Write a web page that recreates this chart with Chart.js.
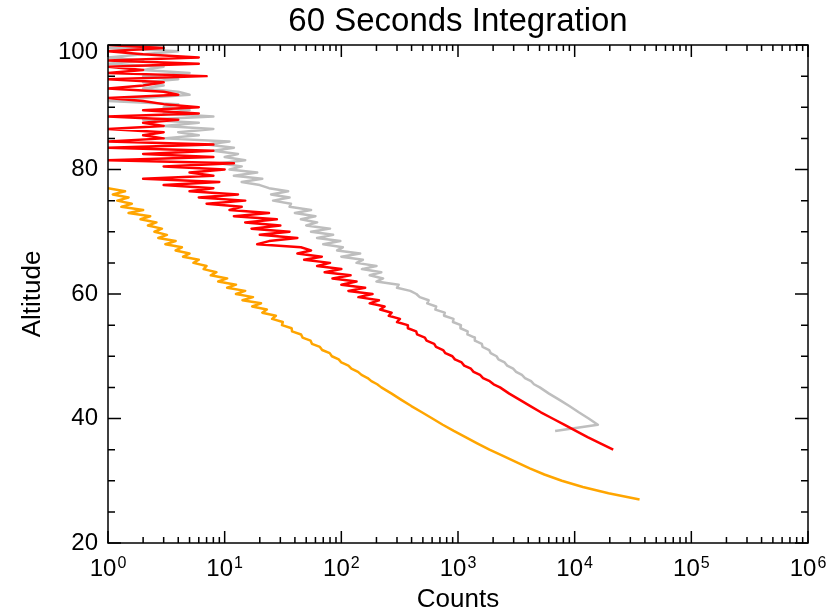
<!DOCTYPE html>
<html>
<head>
<meta charset="utf-8">
<title>60 Seconds Integration</title>
<script src="https://cdn.jsdelivr.net/npm/chart.js@4/dist/chart.umd.min.js"></script>
<style>
  html, body { margin: 0; padding: 0; background: #fff; }
  canvas { display: block; }
</style>
</head>
<body>
<canvas id="profile" width="831" height="611"></canvas>
<script>
const _ = null;

// altitude grid (km): 0.5 km steps down to 45, then 1 km
const altitude = [
  100, 99.5, 99, 98.5, 98, 97.5, 97, 96.5, 96, 95.5,
  95, 94.5, 94, 93.5, 93, 92.5, 92, 91.5, 91, 90.5,
  90, 89.5, 89, 88.5, 88, 87.5, 87, 86.5, 86, 85.5,
  85, 84.5, 84, 83.5, 83, 82.5, 82, 81.5, 81, 80.5,
  80, 79.5, 79, 78.5, 78, 77.5, 77, 76.5, 76, 75.5,
  75, 74.5, 74, 73.5, 73, 72.5, 72, 71.5, 71, 70.5,
  70, 69.5, 69, 68.5, 68, 67.5, 67, 66.5, 66, 65.5,
  65, 64.5, 64, 63.5, 63, 62.5, 62, 61.5, 61, 60.5,
  60, 59.5, 59, 58.5, 58, 57.5, 57, 56.5, 56, 55.5,
  55, 54.5, 54, 53.5, 53, 52.5, 52, 51.5, 51, 50.5,
  50, 49.5, 49, 48.5, 48, 47.5, 47, 46.5, 46, 45.5,
  45, 44, 43, 42, 41, 40, 39, 38, 37, 36,
  35, 34, 33, 32, 31, 30, 29, 28, 27
];

const grayCounts = [
  3, 1, 4, 2, 1, 2, 1, 3, 2, 5,
  2, 4, 2, 3, 2, 4, 5, 2, 1, 4,
  3, 5, 3, 8, 2, 6, 3, 8, 4, 6,
  3, 11, 7, 12, 8, 13, 10, 15, 9, 14,
  11, 19, 12, 21, 14, 20, 24, 35, 25, 36,
  26, 37, 36, 55, 40, 60, 45, 62, 50, 80,
  55, 85, 62, 98, 70, 103, 92, 145, 100, 153,
  135, 200, 150, 220, 175, 228, 200, 310, 300, 390,
  440, 470, 560, 545, 650, 640, 770, 760, 915, 905,
  1060, 1050, 1210, 1205, 1390, 1395, 1600, 1625, 1850, 1905,
  2140, 2220, 2510, 2640, 2970, 3150, 3530, 3750, 4230, 4480,
  5020, 6030, 7410, 9000, 10840, 13180, 15800, 6800, _, _,
  _, _, _, _, _, _, _, _, _
];

const redCounts = [
  1, 3, 1, 2, 6, 1, 6, 1, 2, 1,
  7, 1, 3, 2, 1, 3, 4, 1, 2, 3,
  6, 2, 6, 1, 4, 2, 3, 1, 3, 2,
  3, 1, 8, 1, 8, 2, 8, 1, 12, 3,
  10, 5, 8, 2, 9, 3, 8, 5, 13, 6,
  15, 7, 14, 11, 24, 12, 28, 15, 30, 17,
  36, 20, 42, 24, 19, 45, 55, 42, 68, 48,
  80, 62, 100, 72, 120, 84, 135, 100, 160, 115,
  185, 140, 210, 175, 235, 215, 270, 255, 318, 300,
  370, 372, 438, 446, 520, 538, 625, 648, 745, 780,
  895, 940, 1075, 1130, 1290, 1360, 1545, 1640, 1870, 2020,
  2290, 2750, 3390, 4170, 5130, 6460, 8130, 10230, 12900, 16600,
  21400, _, _, _, _, _, _, _, _
];

const orangeCounts = [
  _, _, _, _, _, _, _, _, _, _,
  _, _, _, _, _, _, _, _, _, _,
  _, _, _, _, _, _, _, _, _, _,
  _, _, _, _, _, _, _, _, _, _,
  _, _, _, _, _, _, 1.0, 1.4, 1.1, 1.5,
  1.2, 1.6, 1.3, 2.0, 1.5, 2.3, 1.9, 2.6, 2.2, 2.9,
  2.5, 3.2, 2.7, 3.8, 3.1, 4.3, 3.8, 5.0, 4.4, 6.0,
  5.4, 7.0, 6.6, 8.5, 7.6, 10.5, 8.8, 12.5, 10.5, 15.0,
  12.5, 17.5, 14.2, 20.5, 17.2, 23.0, 21.0, 27.5, 25.5, 31.5,
  31.0, 37.5, 37.8, 45.2, 46.5, 54.5, 56.0, 65.5, 68.5, 79.5,
  83, 95, 100, 115, 122, 139, 149, 168, 181, 203,
  220, 270, 327, 398, 490, 603, 740, 920, 1160, 1460,
  1860, 2430, 3160, 4120, 5500, 7760, 11750, 19500, 36000
];

// axis ticks
const xExponents = [0, 1, 2, 3, 4, 5, 6];
const xMinorSteps = [2, 3, 4, 5, 6, 7, 8, 9];
const yLabels = [20, 40, 60, 80, 100];
const yMinor = [25, 30, 35, 45, 50, 55, 65, 70, 75, 85, 90, 95];

const FONT = '"Liberation Sans", Arial, Helvetica, sans-serif';

function toPoints(counts) {
  return altitude
    .map((alt, i) => counts[i] == null ? null : { x: counts[i], y: alt })
    .filter(p => p !== null);
}

// IDL-style box: ticks point inward on all four sides, superscript decade labels
const boxAxes = {
  id: 'boxAxes',
  afterDatasetsDraw(chart) {
    const { ctx, chartArea: a, scales: { x, y } } = chart;
    ctx.save();
    ctx.strokeStyle = '#000';
    ctx.lineWidth = 1.5;
    ctx.strokeRect(a.left, a.top, a.right - a.left, a.bottom - a.top);

    ctx.beginPath();
    xExponents.forEach((e, i) => {
      const px = x.getPixelForValue(10 ** e);
      ctx.moveTo(px, a.bottom); ctx.lineTo(px, a.bottom - 12);
      ctx.moveTo(px, a.top); ctx.lineTo(px, a.top + 12);
      if (i === xExponents.length - 1) return;
      xMinorSteps.forEach(m => {
        const mx = x.getPixelForValue(m * 10 ** e);
        ctx.moveTo(mx, a.bottom); ctx.lineTo(mx, a.bottom - 6);
        ctx.moveTo(mx, a.top); ctx.lineTo(mx, a.top + 6);
      });
    });
    yLabels.forEach(v => {
      const py = y.getPixelForValue(v);
      ctx.moveTo(a.left, py); ctx.lineTo(a.left + 13, py);
      ctx.moveTo(a.right, py); ctx.lineTo(a.right - 13, py);
    });
    yMinor.forEach(v => {
      const py = y.getPixelForValue(v);
      ctx.moveTo(a.left, py); ctx.lineTo(a.left + 7, py);
      ctx.moveTo(a.right, py); ctx.lineTo(a.right - 7, py);
    });
    ctx.stroke();

    ctx.fillStyle = '#000';
    ctx.textBaseline = 'alphabetic';
    ctx.textAlign = 'left';
    xExponents.forEach(e => {
      const px = x.getPixelForValue(10 ** e);
      ctx.font = '24px ' + FONT;
      const wBase = ctx.measureText('10').width;
      ctx.font = '16px ' + FONT;
      const wExp = ctx.measureText(String(e)).width;
      const start = px - (wBase + wExp + 1) / 2;
      ctx.font = '24px ' + FONT;
      ctx.fillText('10', start, a.bottom + 33);
      ctx.font = '16px ' + FONT;
      ctx.fillText(String(e), start + wBase + 1, a.bottom + 25);
    });

    ctx.font = '24px ' + FONT;
    ctx.textAlign = 'right';
    ctx.textBaseline = 'middle';
    yLabels.forEach(v => {
      const py = Math.max(y.getPixelForValue(v), a.top + 7);
      ctx.fillText(String(v), a.left - 10, py);
    });

    ctx.font = '26px ' + FONT;
    ctx.textAlign = 'center';
    ctx.textBaseline = 'alphabetic';
    ctx.fillText('Counts', (a.left + a.right) / 2, a.bottom + 64);

    ctx.translate(40, (a.top + a.bottom) / 2);
    ctx.rotate(-Math.PI / 2);
    ctx.fillText('Altitude', 0, 0);
    ctx.restore();
  }
};

new Chart(document.getElementById('profile'), {
  type: 'line',
  data: {
    datasets: [
      { label: 'orange', data: toPoints(orangeCounts), borderColor: 'rgb(255,165,0)' },
      { label: 'red', data: toPoints(redCounts), borderColor: 'rgb(255,0,0)' },
      { label: 'gray', data: toPoints(grayCounts), borderColor: 'rgb(190,190,190)' }
    ]
  },
  options: {
    responsive: false,
    animation: false,
    events: [],
    elements: {
      line: { borderWidth: 2.5, borderJoinStyle: 'round', tension: 0, fill: false },
      point: { radius: 0 }
    },
    layout: { padding: { left: 108, right: 23, top: 0, bottom: 68 } },
    scales: {
      x: { type: 'logarithmic', min: 1, max: 1e6, display: false },
      y: { type: 'linear', min: 20, max: 100, display: false }
    },
    plugins: {
      legend: { display: false },
      tooltip: { enabled: false },
      title: {
        display: true,
        text: '60 Seconds Integration',
        color: '#000',
        font: { family: FONT, size: 33, weight: 'normal' },
        padding: { top: 2, bottom: 3.4 }
      }
    }
  },
  plugins: [boxAxes]
});
</script>
</body>
</html>
